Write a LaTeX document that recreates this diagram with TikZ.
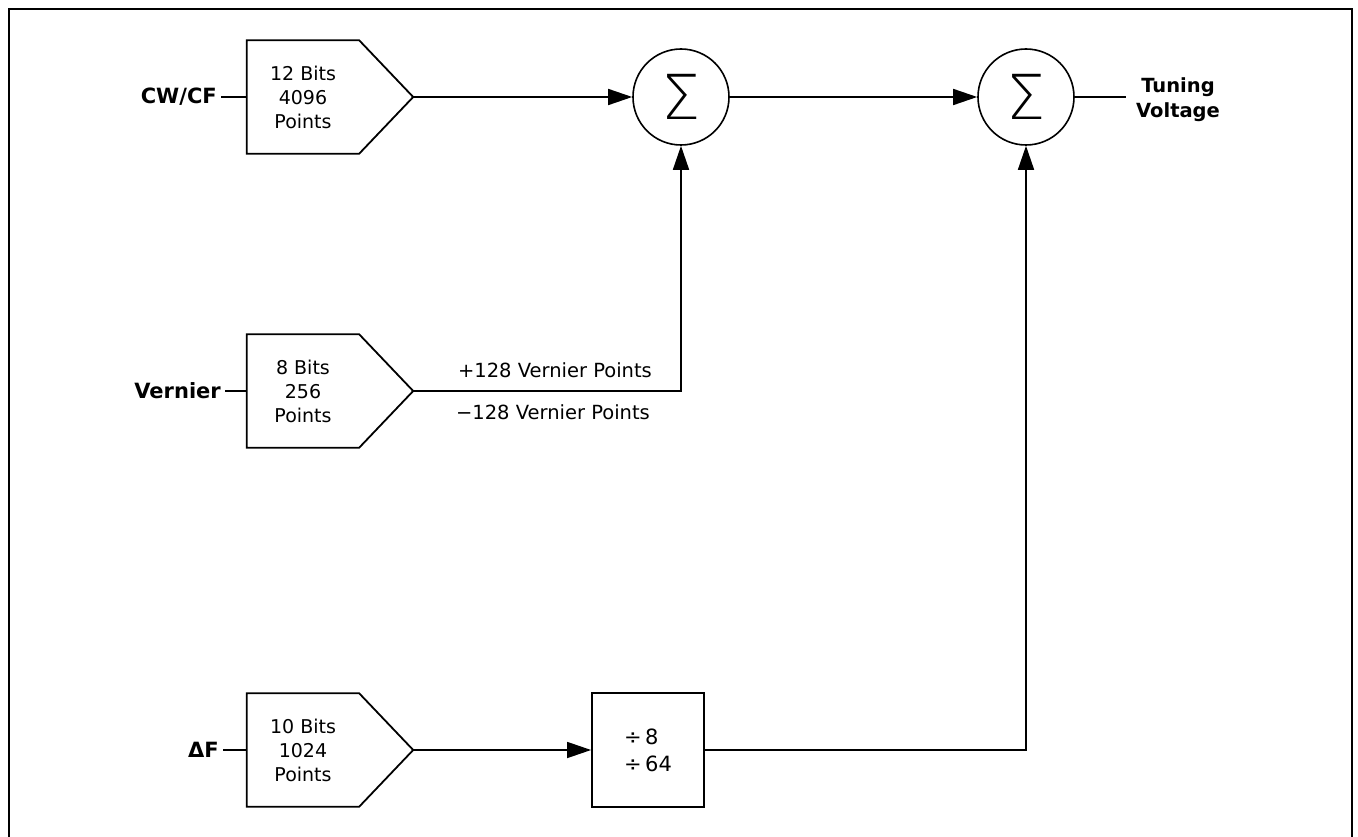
\documentclass[tikz,border=0pt]{standalone}
\usepackage{fontspec}
\setmainfont{DejaVu Sans}
\newfontfamily\sigmafont{DejaVu Sans ExtraLight}
\usetikzlibrary{arrows.meta,positioning}

\tikzset{
  dac/.style={minimum width=112pt, minimum height=113pt, inner sep=0pt,
    align=center, font=\fontsize{19}{24}\selectfont},
  outline/.style={line width=1.8pt, line join=miter},
  sumnode/.style={draw, circle, line width=1.6pt, minimum size=96pt, inner sep=0pt,
    font=\sigmafont\fontsize{62}{62}\selectfont},
  divbox/.style={draw, rectangle, line width=1.8pt, minimum width=112pt,
    minimum height=114pt, align=left, font=\fontsize{21}{27}\selectfont},
  inlabel/.style={anchor=east, inner xsep=4pt, inner ysep=0pt,
    font=\bfseries\fontsize{21}{25}\selectfont},
  vlabel/.style={font=\fontsize{19.5}{24}\selectfont},
  wire/.style={line width=1.6pt},
  feed/.style={wire, -{Triangle[length=24pt,width=16pt]}},
}

\begin{document}
\begin{tikzpicture}[x=1pt, y=-1pt]
    \useasboundingbox (0,0) rectangle (1358,837);
    % frame, open at the bottom
    \draw[line width=2.2pt] (9,837) -- (9,9) -- (1352,9) -- (1352,837);

    % converters
    \node[dac] (cwdac) at (303,97) {12 Bits\\4096\\Points};
    \node[dac] (verdac) at (303,391) {8 Bits\\256\\Points};
    \node[dac] (dfdac) at (303,750) {10 Bits\\1024\\Points};
    \foreach \n in {cwdac,verdac,dfdac}{
        \draw[outline] (\n.north west) -- (\n.north east) -- ([xshift=54pt]\n.east)
            -- (\n.south east) -- (\n.south west) -- cycle;
        \coordinate (\n-tip) at ([xshift=54pt]\n.east);
    }

    % inputs
    \node[inlabel] (cwin) at (221,97) {CW/CF};
    \node[inlabel] (verin) at (225,391) {Vernier};
    \node[inlabel] (dfin) at (223,750) {ΔF};
    \draw[wire] (cwin) -- (cwdac.west);
    \draw[wire] (verin) -- (verdac.west);
    \draw[wire] (dfin) -- (dfdac.west);

    % summing junctions
    \node[sumnode] (sum1) at (681,97) {Σ};
    \node[sumnode] (sum2) at (1026,97) {Σ};
    \node[divbox] (divider) at (648,750) {÷\,8\\÷\,64};

    \draw[feed] (cwdac-tip) -- (sum1.west);
    \draw[feed] (sum1.east) -- (sum2.west);
    \draw[feed] (verdac-tip) -| (sum1.south);
    \draw[feed] (dfdac-tip) -- (divider.west);
    \draw[feed] (divider.east) -| (sum2.south);

    \node[vlabel] (vplus) at (555,370) {+128 Vernier Points};
    \node[vlabel] (vminus) at (553,412) {−128 Vernier Points};

    % output
    \coordinate (tvend) at (1126,97);
    \draw[wire] (sum2.east) -- (tvend);
    \node[align=center, font=\bfseries\fontsize{19.5}{25}\selectfont] (tv) at (1178,100) {Tuning\\Voltage};
\end{tikzpicture}
\end{document}
